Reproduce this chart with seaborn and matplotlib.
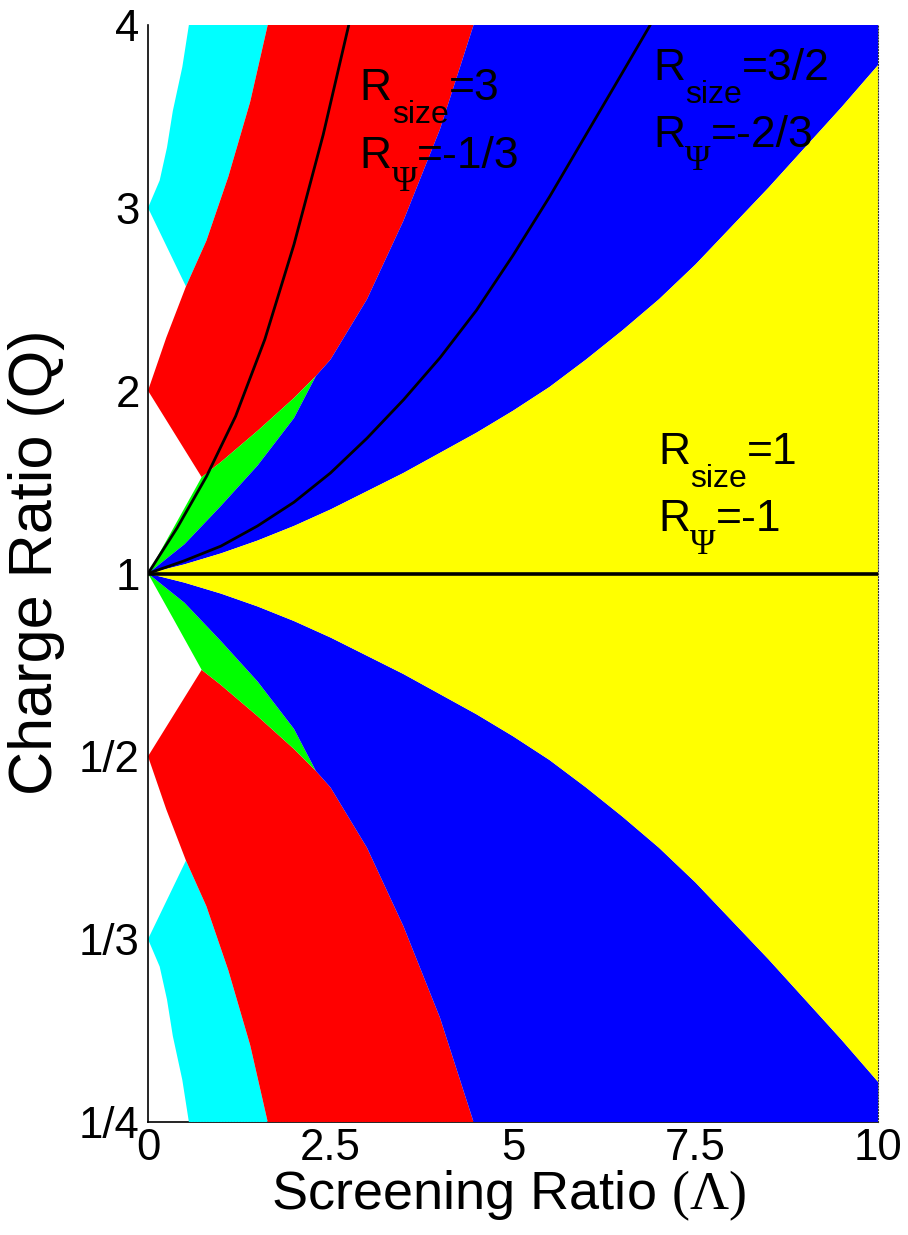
import numpy as np
import pandas as pd
import matplotlib
matplotlib.use("Agg")
import matplotlib.pyplot as plt
import seaborn as sns
from matplotlib.ticker import NullLocator
from matplotlib.transforms import IdentityTransform

# Phase boundaries for Q >= 1 (screening ratio Λ, charge ratio Q).
# The diagram is symmetric under Q -> 1/Q, which gives the lower half.
cyan_left_lam = [0.0, 0.16, 0.26, 0.34, 0.47, 0.56]
cyan_left_q = [3.0, 3.15, 3.33, 3.53, 3.77, 4.0]

red_left_lam = [0.0, 0.25, 0.52, 0.80, 1.10, 1.40, 1.64]
red_left_q = [2.0, 2.29, 2.57, 2.82, 3.17, 3.58, 4.0]

red_right_lam = [0.735, 1.0, 1.5, 2.0, 2.3, 2.5, 3.0, 3.5, 4.0, 4.46]
red_right_q = [1.527, 1.61, 1.78, 1.96, 2.08, 2.17, 2.50, 2.93, 3.43, 4.0]

green_left_lam = [0.0, 0.35, 0.735]
green_left_q = [1.0, 1.25, 1.527]

green_right_lam = [0.0, 0.5, 1.0, 1.5, 2.0, 2.3]
green_right_q = [1.0, 1.16, 1.37, 1.59, 1.85, 2.08]

yellow_lam = [0.0, 0.5, 1.0, 1.5, 2.0, 2.5, 3.0, 3.5, 4.0, 4.5, 5.0,
              5.5, 6.0, 6.5, 7.0, 7.5, 8.0, 8.5, 9.0, 9.5, 10.0]
yellow_q = [1.0, 1.05, 1.11, 1.18, 1.26, 1.35, 1.45, 1.55, 1.66, 1.77, 1.89,
            2.02, 2.17, 2.33, 2.50, 2.69, 2.90, 3.11, 3.33, 3.55, 3.78]

# Constant-ratio curves (R_size = 3 and R_size = 3/2) and the R_size = 1 line
rsize3_lam = [0.0, 0.4, 0.8, 1.2, 1.6, 2.0, 2.4, 2.75]
rsize3_q = [1.0, 1.25, 1.53, 1.86, 2.28, 2.80, 3.40, 4.0]

rsize32_lam = [0.0, 0.5, 1.0, 1.5, 2.0, 2.5, 3.0, 3.5, 4.0, 4.5, 5.0, 5.5, 6.0, 6.5, 6.88]
rsize32_q = [1.0, 1.07, 1.15, 1.26, 1.39, 1.55, 1.74, 1.95, 2.18, 2.44, 2.74, 3.06, 3.40, 3.74, 4.0]

rsize1_lam = [0.0, 10.0]
rsize1_q = [1.0, 1.0]

q_ticks = [1/4, 1/3, 1/2, 1, 2, 3, 4]
q_ticklabels = ["1/4", "1/3", "1/2", "1", "2", "3", "4"]
lam_ticks = [0, 2.5, 5, 7.5, 10]
lam_ticklabels = ["0", "2.5", "5", "7.5", "10"]

phase_colors = {"cyan": "#00FFFF", "red": "#FF0000", "green": "#00FF00",
                "blue": "#0000FF", "yellow": "#FFFF00"}

sns.set_theme(style="white")
plt.rcParams["font.family"] = ["Liberation Sans", "DejaVu Sans"]
plt.rcParams["mathtext.fontset"] = "custom"
plt.rcParams["mathtext.rm"] = "Liberation Serif"
plt.rcParams["mathtext.it"] = "Liberation Serif:italic"
plt.rcParams["mathtext.bf"] = "Liberation Serif:bold"
plt.rcParams["mathtext.sf"] = "Liberation Sans"


def q_forward(q):
    q = np.asarray(q, dtype=float)
    with np.errstate(divide="ignore", invalid="ignore"):
        return np.where(q >= 1, q - 1.0, 1.0 - 1.0 / q)


def q_inverse(u):
    u = np.asarray(u, dtype=float)
    with np.errstate(divide="ignore", invalid="ignore"):
        return np.where(u >= 0, u + 1.0, 1.0 / (1.0 - u))


def join(*parts):
    lam = np.concatenate([np.asarray(p[0], float) for p in parts])
    q = np.concatenate([np.asarray(p[1], float) for p in parts])
    return lam, q


rl, rq = np.array(red_left_lam), np.array(red_left_q)
rr, rrq = np.array(red_right_lam), np.array(red_right_q)
gr, grq = np.array(green_right_lam), np.array(green_right_q)
yl, yq = np.array(yellow_lam), np.array(yellow_q)

regions = {
    "cyan": join((cyan_left_lam, cyan_left_q), (rl[:1:-1], rq[:1:-1])),
    "red": join((rl, rq), (rr[::-1], rrq[::-1])),
    "green": join((green_left_lam, green_left_q), (rr[1:5], rrq[1:5]),
                  (gr[-2::-1], grq[-2::-1])),
    "blue": join((gr, grq), (rr[5:], rrq[5:]), ([10.0], [4.0]),
                 (yl[::-1], yq[::-1])),
}

fig = plt.figure(figsize=(9.08, 12.35), dpi=100)
ax = fig.add_axes([148 / 908, 1 - 1122 / 1235, 730 / 908, 1097 / 1235])
ax.set_yscale("function", functions=(q_forward, q_inverse))

for name, (lam, q) in regions.items():
    ax.fill(lam, q, color=phase_colors[name], lw=0, zorder=1)
    ax.fill(lam, 1.0 / q, color=phase_colors[name], lw=0, zorder=1)

# Yellow band between the two mirrored boundaries
ax.fill(np.concatenate([yl, yl[::-1]]), np.concatenate([yq, 1.0 / yq[::-1]]),
        color=phase_colors["yellow"], lw=0, zorder=1)

curves = pd.concat([
    pd.DataFrame({"lam": rsize3_lam, "Q": rsize3_q, "curve": "R3"}),
    pd.DataFrame({"lam": rsize32_lam, "Q": rsize32_q, "curve": "R32"}),
])
sns.lineplot(data=curves, x="lam", y="Q", units="curve", estimator=None,
             color="black", lw=2.0, sort=False, ax=ax, zorder=3)
sns.lineplot(x=rsize1_lam, y=rsize1_q, color="black", lw=2.6, ax=ax, zorder=3)

ax.set_xlim(0, 10)
ax.set_ylim(1 / 4, 4)
ax.set_xticks(lam_ticks)
ax.set_xticklabels(lam_ticklabels)
ax.set_yticks(q_ticks)
ax.set_yticklabels(q_ticklabels)
ax.yaxis.set_minor_locator(NullLocator())
ax.tick_params(axis="both", direction="in", length=4, width=1, color="black",
               labelsize=31.5, labelcolor="black")
ax.tick_params(axis="x", pad=4)
ax.tick_params(axis="y", pad=6)
ax.set_axisbelow(True)

ax.spines["top"].set_visible(False)
ax.spines["left"].set_color("black")
ax.spines["left"].set_linewidth(1.2)
ax.spines["left"].set_zorder(4)
ax.spines["bottom"].set_color("black")
ax.spines["bottom"].set_linewidth(1.2)
ax.spines["bottom"].set_zorder(0.5)
ax.spines["right"].set_color("#333333")
ax.spines["right"].set_linewidth(0.8)
ax.spines["right"].set_linestyle(":")
ax.spines["right"].set_zorder(2)
# faint dotted edge of the filled map along the bottom
ax.axhline(1 / 4, color="#333333", lw=0.8, ls=":", zorder=2)

ax.set_xlabel(r"Screening Ratio $(\Lambda)$", fontsize=39, color="black")
ax.set_ylabel("Charge Ratio (Q)", fontsize=44, color="black")
ax.xaxis.set_label_coords(0.494, -0.042)
ax.yaxis.set_label_coords(-0.114, 0.51)

# Region labels: main letter, lowered subscript, then the value
renderer = fig.canvas.get_renderer()
SANS, SERIF = "Liberation Sans", "Liberation Serif"


def rich_label(lam, q, parts):
    x0, y0 = ax.transData.transform((lam, q))
    cur = x0
    for text, size, drop, family in parts:
        t = fig.text(cur, y0 - drop, text, transform=IdentityTransform(),
                     fontsize=size, family=family, color="black",
                     ha="left", va="baseline", zorder=5)
        cur = t.get_window_extent(renderer).x1


def size_label(lam, q, value):
    rich_label(lam, q, [("R", 32, 0, SANS), ("size", 23, 23, SANS),
                        ("=" + value, 32, 0, SANS)])


def psi_label(lam, q, value):
    rich_label(lam, q, [("R", 32, 0, SANS), ("\u03a8", 25, 23, SERIF),
                        ("=" + value, 32, 0, SANS)])


size_label(2.90, 3.59, "3")
psi_label(2.90, 3.22, "-1/3")
size_label(6.92, 3.70, "3/2")
psi_label(6.92, 3.33, "-2/3")
size_label(6.99, 1.60, "1")
psi_label(6.99, 1.235, "-1")

fig.savefig("out.png", dpi=100, facecolor="white")
